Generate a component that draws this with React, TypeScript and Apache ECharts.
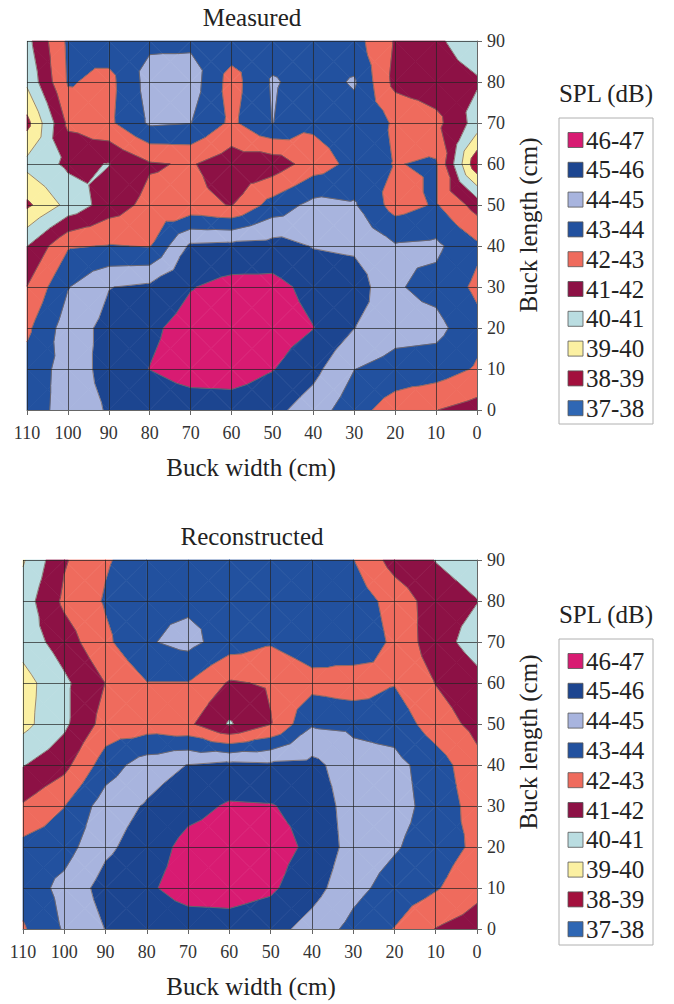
import { useEffect, useRef } from "react";
import * as echarts from "echarts";

// Buck width ticks (left to right in the picture) and buck length ticks (top to bottom)
const widthTicks = [110, 100, 90, 80, 70, 60, 50, 40, 30, 20, 10, 0];
const lengthTicks = [90, 80, 70, 60, 50, 40, 30, 20, 10, 0];

const bandLabels = ["46-47", "45-46", "44-45", "43-44", "42-43", "41-42", "40-41", "39-40", "38-39", "37-38"];
const bandLows = [46, 45, 44, 43, 42, 41, 40, 39, 38, 37];
const bandColors = ["#d81b72", "#1c4590", "#a8b4de", "#22519f", "#ef6b5d", "#8d1145", "#badde1", "#fbf0a2", "#a3103d", "#2f67b4"];

// Measured SPL (dB), one row per buck length, values from width 110 to 0
const measuredL90 = [40.7, 43.2, 43.6, 43.8, 43.8, 43.6, 43.5, 43.5, 43.4, 41.9, 41.15, 40.5];
const measuredL80 = [40.2, 43.1, 42.7, 44.4, 44.5, 42.6, 44.1, 43.6, 44.1, 41.7, 41.4, 41.1];
const measuredL70 = [38.7, 42.2, 42.8, 44.15, 44.03, 42.8, 44.02, 43.2, 43.6, 42.9, 42.3, 40.6];
const measuredL60 = [40.3, 41.2, 40.97, 41.9, 42.1, 41.4, 41.4, 42.5, 43.3, 42.97, 43.1, 38.2];
const measuredL50 = [38.8, 40.3, 41.5, 42.3, 42.3, 41.95, 43.4, 44.3, 44.1, 42.6, 43.1, 41.6];
const measuredL40 = [40.98, 42.9, 43.05, 42.95, 45.2, 45.3, 45.4, 44.95, 44.8, 44.1, 44.2, 43.2];
const measuredL30 = [42.02, 43.95, 44.97, 45.2, 45.95, 46.3, 46.3, 45.7, 45.6, 44.1, 43.7, 42.8];
const measuredL20 = [42.8, 44.5, 45.3, 45.8, 46.4, 46.6, 46.5, 46.02, 45.02, 44.4, 44.3, 43.3];
const measuredL10 = [43.4, 44.4, 45.4, 46.02, 46.5, 46.5, 46.05, 45.3, 44.02, 43.6, 43.5, 42.9];
const measuredL0 = [43.5, 44.4, 45.1, 45.2, 45.4, 45.5, 45.3, 44.5, 43.4, 42.5, 42.02, 41.6];

// Reconstructed SPL (dB)
const reconL90 = [39.9, 41.9, 42.9, 43.5, 43.6, 43.5, 43.4, 43.4, 43.03, 41.6, 40.97, 40.5];
const reconL80 = [40.5, 42.2, 43.1, 43.8, 43.8, 43.7, 43.7, 43.7, 43.6, 42.6, 41.5, 41.03];
const reconL70 = [40.4, 41.5, 42.8, 43.9, 44.3, 43.5, 43.1, 43.6, 43.8, 42.8, 41.4, 40.6];
const reconL60 = [39.6, 40.8, 42.02, 42.97, 42.97, 41.9, 42.1, 42.65, 42.4, 42.95, 41.97, 41.3];
const reconL50 = [39.7, 40.8, 42.4, 42.5, 42.2, 40.9, 41.95, 43.9, 43.8, 43.6, 42.5, 41.7];
const reconL40 = [40.95, 41.7, 43.5, 44.5, 45.03, 45.3, 45.2, 45.3, 44.4, 44.3, 43.5, 42.3];
const reconL30 = [42.1, 42.98, 44.5, 45.1, 45.7, 46.1, 46.05, 45.7, 44.5, 44.4, 43.6, 42.6];
const reconL20 = [43.3, 43.6, 44.8, 45.5, 46.3, 46.5, 46.4, 45.8, 44.6, 44.1, 43.5, 42.8];
const reconL10 = [43.4, 44.3, 45.4, 45.85, 46.4, 46.4, 46.15, 45.4, 44.3, 43.6, 43.1, 42.3];
const reconL0 = [42.9, 44.1, 45.03, 45.3, 45.5, 45.6, 45.4, 44.6, 43.7, 42.97, 41.97, 41.5];

const measuredRows = [measuredL90, measuredL80, measuredL70, measuredL60, measuredL50, measuredL40, measuredL30, measuredL20, measuredL10, measuredL0];
const reconRows = [reconL90, reconL80, reconL70, reconL60, reconL50, reconL40, reconL30, reconL20, reconL10, reconL0];

type P = [number, number, number];

function clip(poly: P[], level: number, keepAbove: boolean): P[] {
  const out: P[] = [];
  for (let i = 0; i < poly.length; i++) {
    const a = poly[i];
    const b = poly[(i + 1) % poly.length];
    const ina = keepAbove ? a[2] >= level : a[2] <= level;
    const inb = keepAbove ? b[2] >= level : b[2] <= level;
    if (ina) out.push(a);
    if (ina !== inb) {
      const t = (level - a[2]) / (b[2] - a[2]);
      out.push([a[0] + t * (b[0] - a[0]), a[1] + t * (b[1] - a[1]), level]);
    }
  }
  return out;
}

function cellTriangles(rows: number[][], ci: number, ri: number): P[][] {
  const xa = widthTicks[ci], xb = widthTicks[ci + 1];
  const ya = lengthTicks[ri], yb = lengthTicks[ri + 1];
  const pA: P = [xa, ya, rows[ri][ci]];
  const pB: P = [xb, ya, rows[ri][ci + 1]];
  const pC: P = [xb, yb, rows[ri + 1][ci + 1]];
  const pD: P = [xa, yb, rows[ri + 1][ci]];
  const m: P = [(xa + xb) / 2, (ya + yb) / 2, (pA[2] + pB[2] + pC[2] + pD[2]) / 4];
  return [[m, pA, pB], [m, pB, pC], [m, pC, pD], [m, pD, pA]];
}

const cells: number[][] = [];
for (let ci = 0; ci < widthTicks.length - 1; ci++) {
  for (let ri = 0; ri < lengthTicks.length - 1; ri++) cells.push([ci, ri]);
}

const SERIF = "Liberation Serif";

function fillSeries(rows: number[][], idx: number) {
  return {
    type: "custom",
    xAxisIndex: idx,
    yAxisIndex: idx,
    z: 1,
    silent: true,
    data: cells,
    renderItem: (_params: any, api: any) => {
      const ci = api.value(0);
      const ri = api.value(1);
      const children: any[] = [];
      for (const tri of cellTriangles(rows, ci, ri)) {
        for (let k = 0; k < bandLows.length; k++) {
          const lo = bandLows[k];
          let poly = clip(tri, lo, true);
          if (poly.length < 3) continue;
          poly = clip(poly, lo + 1, false);
          if (poly.length < 3) continue;
          const pts = poly.map((p) => api.coord([p[0], p[1]]));
          children.push({
            type: "polygon",
            shape: { points: pts },
            style: { fill: bandColors[k], stroke: bandColors[k], lineWidth: 0.7 },
          });
        }
      }
      return { type: "group", children };
    },
  };
}

function lineSeries(rows: number[][], idx: number) {
  return {
    type: "custom",
    xAxisIndex: idx,
    yAxisIndex: idx,
    z: 2,
    silent: true,
    data: cells,
    renderItem: (_params: any, api: any) => {
      const ci = api.value(0);
      const ri = api.value(1);
      const children: any[] = [];
      for (const tri of cellTriangles(rows, ci, ri)) {
        for (let L = 38; L <= 46; L++) {
          const pts: number[][] = [];
          for (let e = 0; e < 3; e++) {
            const a = tri[e];
            const b = tri[(e + 1) % 3];
            if ((a[2] < L) !== (b[2] < L)) {
              const t = (L - a[2]) / (b[2] - a[2]);
              pts.push(api.coord([a[0] + t * (b[0] - a[0]), a[1] + t * (b[1] - a[1])]));
            }
          }
          if (pts.length === 2) {
            children.push({
              type: "line",
              shape: { x1: pts[0][0], y1: pts[0][1], x2: pts[1][0], y2: pts[1][1] },
              style: { stroke: "rgba(125,105,95,0.85)", lineWidth: 0.9 },
            });
          }
        }
      }
      return { type: "group", children };
    },
  };
}

function xAxisOf(idx: number) {
  return {
    gridIndex: idx,
    type: "value",
    min: 0,
    max: 110,
    interval: 10,
    inverse: true,
    z: 10,
    axisLine: { show: true, lineStyle: { color: "#666", width: 1 } },
    axisTick: { show: true, length: 5, lineStyle: { color: "#666" } },
    axisLabel: { fontFamily: SERIF, fontSize: 18, color: "#333", margin: 14 },
    splitLine: { show: true, lineStyle: { color: "rgba(35,35,35,0.7)", width: 1 } },
  };
}

function yAxisOf(idx: number) {
  return {
    gridIndex: idx,
    type: "value",
    position: "right",
    min: 0,
    max: 90,
    interval: 10,
    z: 10,
    axisLine: { show: true, lineStyle: { color: "#666", width: 1 } },
    axisTick: { show: true, length: 5, lineStyle: { color: "#666" } },
    axisLabel: { fontFamily: SERIF, fontSize: 18, color: "#333", margin: 10 },
    splitLine: { show: true, lineStyle: { color: "rgba(35,35,35,0.7)", width: 1 } },
  };
}

function textEl(text: string, x: number, y: number, size: number, rotation = 0) {
  return {
    type: "text",
    x,
    y,
    rotation,
    z: 20,
    style: {
      text,
      fontFamily: SERIF,
      fontSize: size,
      fill: "#222",
      align: "center",
      verticalAlign: "middle",
      textAlign: "center",
      textVerticalAlign: "middle",
    },
  };
}

function legendEls(top: number) {
  const els: any[] = [];
  els.push(textEl("SPL (dB)", 606, top, 25));
  els.push({
    type: "rect",
    z: 20,
    shape: { x: 559, y: top + 25, width: 94, height: 306 },
    style: { fill: "#fff", stroke: "#b0b0b0", lineWidth: 1 },
  });
  bandLabels.forEach((lab, k) => {
    const cy = top + 47 + k * 29.8;
    els.push({
      type: "rect",
      z: 21,
      shape: { x: 568, y: cy - 7.5, width: 15, height: 15 },
      style: { fill: bandColors[k], stroke: "#555", lineWidth: 0.8 },
    });
    els.push({
      type: "text",
      x: 586,
      y: cy,
      z: 21,
      style: {
        text: lab,
        fontFamily: SERIF,
        fontSize: 25,
        fill: "#222",
        align: "left",
        verticalAlign: "middle",
        textAlign: "left",
        textVerticalAlign: "middle",
      },
    });
  });
  return els;
}

export default function App() {
  const ref = useRef<HTMLDivElement>(null);
  useEffect(() => {
    if (!ref.current) return;
    const chart = echarts.init(ref.current, undefined, { renderer: "svg" });
    chart.setOption({
      animation: false,
      backgroundColor: "#ffffff",
      grid: [
        { left: 27, top: 41, width: 450, height: 369 },
        { left: 23, top: 560, width: 454, height: 369 },
      ],
      xAxis: [xAxisOf(0), xAxisOf(1)],
      yAxis: [yAxisOf(0), yAxisOf(1)],
      series: [fillSeries(measuredRows, 0), lineSeries(measuredRows, 0), fillSeries(reconRows, 1), lineSeries(reconRows, 1)],
      graphic: [
        textEl("Measured", 252, 17, 25),
        textEl("Buck width (cm)", 251, 467, 25),
        textEl("Buck length (cm)", 528, 225, 25, Math.PI / 2),
        textEl("Reconstructed", 252, 536, 25),
        textEl("Buck width (cm)", 251, 986, 25),
        textEl("Buck length (cm)", 528, 742, 25, Math.PI / 2),
        ...legendEls(93),
        ...legendEls(614),
      ],
    });
    return () => chart.dispose();
  }, []);
  return <div ref={ref} style={{ position: "absolute", left: 0, top: 0, width: 674, height: 1004 }} />;
}
